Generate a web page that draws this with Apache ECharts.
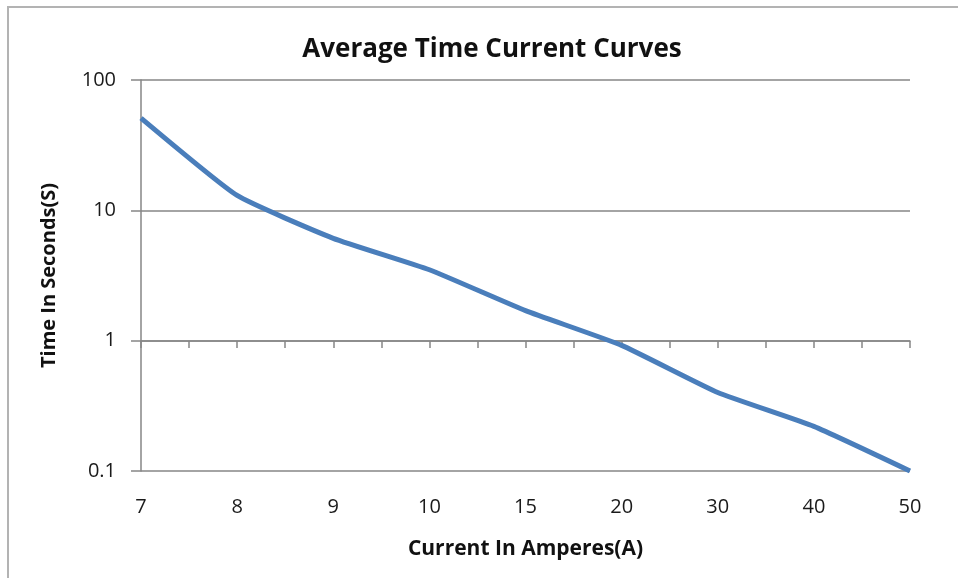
<!DOCTYPE html>
<html>
<head>
<meta charset="utf-8">
<script src="https://cdn.jsdelivr.net/npm/echarts@6/dist/echarts.min.js"></script>
<style>
html,body{margin:0;padding:0;background:#fff;}
#c{width:958px;height:578px;}
</style>
</head>
<body>
<div id="c"></div>
<script>
var categories = ['7','8','9','10','15','20','30','40','50'];
var timeSeconds = [51, 13, 6.1, 3.5, 1.7, 0.92, 0.4, 0.22, 0.1];
var titleText = 'Average Time Current Curves';
var xName = 'Current In Amperes(A)';
var yName = 'Time In Seconds(S)';

var FONT = 'Open Sans';
var chart = echarts.init(document.getElementById('c'));
chart.setOption({
  animation: false,
  backgroundColor: '#fff',
  graphic: [{
    type: 'rect',
    shape: {x: 8, y: 7, width: 970, height: 600},
    style: {fill: 'none', stroke: '#b3b3b3', lineWidth: 2},
    silent: true
  }],
  title: {
    text: titleText,
    left: 487, top: 32, textAlign: 'center',
    textStyle: {fontFamily: FONT, fontWeight: 'bold', fontSize: 26, color: '#111'}
  },
  grid: [
    {left: 141, right: 48, top: 80, bottom: 107},
    {left: 141, right: 48, top: 341, bottom: 237}
  ],
  xAxis: [{
    type: 'category',
    gridIndex: 0,
    data: categories,
    boundaryGap: false,
    axisLine: {show: false},
    axisTick: {show: false},
    splitLine: {show: false},
    axisLabel: {fontFamily: FONT, fontSize: 20, color: '#1a1a1a', margin: 26},
    name: xName,
    nameLocation: 'middle',
    nameGap: 68,
    nameTextStyle: {fontFamily: FONT, fontWeight: 'bold', fontSize: 21, color: '#111'}
  }, {
    type: 'value',
    gridIndex: 1,
    min: 0, max: 16, interval: 1,
    axisLine: {show: true, lineStyle: {color: '#868686', width: 1.5}},
    axisTick: {show: true, length: 7, lineStyle: {color: '#868686', width: 1.5}},
    axisLabel: {show: false},
    splitLine: {show: false}
  }],
  yAxis: [{
    type: 'log',
    gridIndex: 0,
    logBase: 10,
    min: 0.1, max: 100,
    axisLine: {show: true, lineStyle: {color: '#868686', width: 1.5}},
    axisTick: {show: true, length: 10, lineStyle: {color: '#868686', width: 1.5}},
    splitLine: {show: true, lineStyle: {color: '#868686', width: 1.5}},
    axisLabel: {fontFamily: FONT, fontSize: 20, color: '#1a1a1a', margin: 25,
      formatter: function (v) { return v < 1 ? v.toFixed(1) : String(Math.round(v)); }},
    name: yName,
    nameLocation: 'middle',
    nameGap: 82,
    nameTextStyle: {fontFamily: FONT, fontWeight: 'bold', fontSize: 20, color: '#111'}
  }, {
    type: 'value',
    gridIndex: 1,
    show: false
  }],
  series: [{
    type: 'line',
    xAxisIndex: 0,
    yAxisIndex: 0,
    data: timeSeconds,
    smooth: 0.15,
    showSymbol: false,
    lineStyle: {color: '#4a7ebb', width: 5},
    itemStyle: {color: '#4a7ebb'}
  }]
});
</script>
</body>
</html>
